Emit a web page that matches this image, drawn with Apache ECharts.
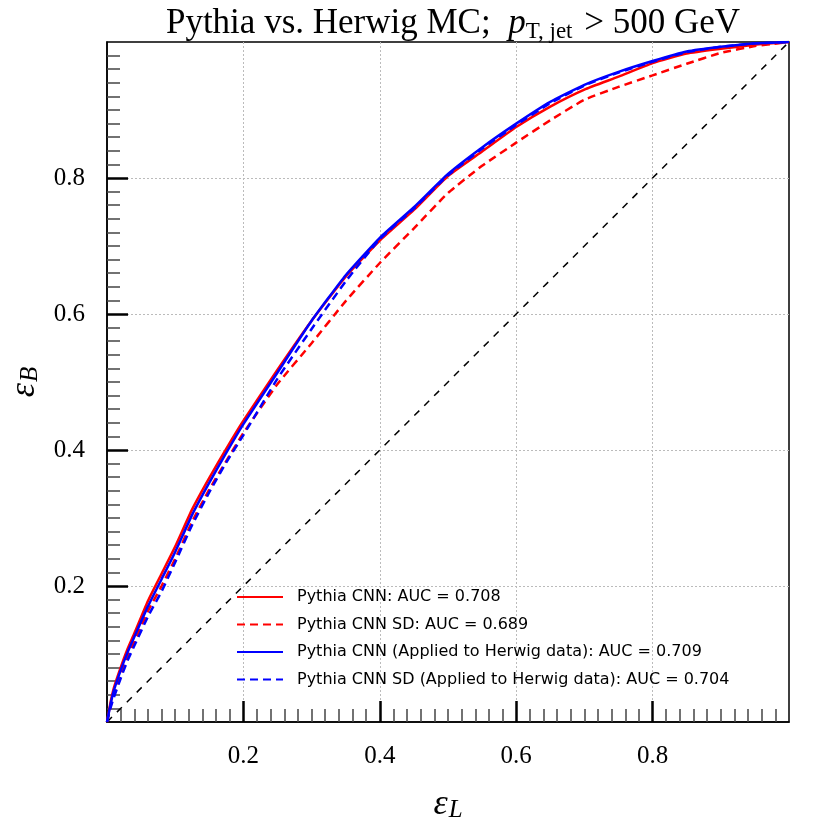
<!DOCTYPE html>
<html>
<head>
<meta charset="utf-8">
<script src="https://cdn.jsdelivr.net/npm/echarts@6/dist/echarts.min.js"></script>
<style>
  html, body { margin: 0; padding: 0; background: #fff; }
  #chart { width: 830px; height: 830px; }
</style>
</head>
<body>
<div id="chart"></div>
<script>
// --- data ---
const epsL = [0, 0.005, 0.01, 0.02, 0.03, 0.04, 0.06, 0.08, 0.1, 0.125, 0.15, 0.175, 0.2, 0.25, 0.3, 0.35,
              0.4, 0.45, 0.5, 0.55, 0.6, 0.65, 0.7, 0.75, 0.8, 0.85, 0.9, 0.95, 0.975, 1.0];

const pythiaCNN = [0, 0.028, 0.05, 0.08, 0.107, 0.13, 0.178, 0.218, 0.258, 0.313, 0.359, 0.402, 0.443, 0.518, 0.59, 0.655,
                   0.708, 0.753, 0.803, 0.839, 0.875, 0.905, 0.93, 0.949, 0.969, 0.983, 0.99, 0.996, 0.998, 1];
const pythiaSD = [0, 0.022, 0.04, 0.07, 0.096, 0.118, 0.163, 0.2, 0.24, 0.295, 0.342, 0.384, 0.425, 0.497, 0.557, 0.619,
                  0.675, 0.726, 0.778, 0.818, 0.852, 0.885, 0.915, 0.934, 0.951, 0.968, 0.984, 0.994, 0.997, 1];
const herwigCNN = [0, 0.025, 0.046, 0.076, 0.102, 0.125, 0.17, 0.21, 0.25, 0.305, 0.352, 0.396, 0.438, 0.514, 0.59, 0.657,
                   0.712, 0.757, 0.806, 0.845, 0.88, 0.912, 0.937, 0.956, 0.972, 0.986, 0.993, 0.998, 0.999, 1];
const herwigSD = [0, 0.02, 0.036, 0.064, 0.09, 0.112, 0.155, 0.192, 0.235, 0.29, 0.338, 0.382, 0.422, 0.505, 0.578, 0.648,
                  0.71, 0.755, 0.804, 0.843, 0.878, 0.91, 0.936, 0.955, 0.971, 0.985, 0.993, 0.998, 0.999, 1];

const diagonal = [0, 1];
const majorTicks = [0.2, 0.4, 0.6, 0.8];

const seriesNames = [
  'Pythia CNN: AUC = 0.708',
  'Pythia CNN SD: AUC = 0.689',
  'Pythia CNN (Applied to Herwig data): AUC = 0.709',
  'Pythia CNN SD (Applied to Herwig data): AUC = 0.704'
];

const SERIF = '"Liberation Serif", "DejaVu Serif", serif';

function pairs(xs, ys) {
  return xs.map((x, i) => [x, ys[i]]);
}

function curve(name, ys, color, dashed) {
  return {
    name: name,
    type: 'line',
    data: pairs(epsL, ys),
    showSymbol: false,
    symbol: 'none',
    smooth: 0.15,
    lineStyle: { color: color, width: 2.5, type: dashed ? [8, 5] : 'solid' },
    itemStyle: { color: color },
    z: 3
  };
}

// italic epsilon with italic subscript, used for both axis names
const nameStyle = {
  rich: {
    e: { fontFamily: SERIF, fontSize: 36, fontStyle: 'italic', color: '#000' },
    s: { fontFamily: SERIF, fontSize: 25, fontStyle: 'italic', color: '#000', padding: [12, 0, 0, 1] }
  }
};

const axisCommon = {
  type: 'value',
  min: 0,
  max: 1,
  interval: 0.2,
  nameLocation: 'middle',
  axisLine: { show: true, lineStyle: { color: '#000', width: 1.5 } },
  axisTick: { show: true, inside: true, length: 21, customValues: majorTicks, lineStyle: { color: '#000', width: 2.5 } },
  minorTick: { show: true, splitNumber: 10, length: 13, lineStyle: { color: '#444', width: 1.5 } },
  splitLine: { show: true, lineStyle: { color: '#bbb', width: 1, type: [2, 2] } },
  axisLabel: { customValues: majorTicks, formatter: v => v.toFixed(1), color: '#000', fontFamily: SERIF, fontSize: 25, margin: 22 },
  nameTextStyle: nameStyle
};

const chart = echarts.init(document.getElementById('chart'));

chart.setOption({
  animation: false,
  backgroundColor: '#fff',
  title: {
    text: 'Pythia vs. Herwig MC;  {i|p}{sub|T, jet}{n| > 500 GeV}',
    left: 448,
    textAlign: 'center',
    top: -1,
    textStyle: {
      fontFamily: SERIF, fontSize: 35, fontWeight: 'normal', color: '#000',
      rich: {
        i: { fontFamily: SERIF, fontSize: 35, fontStyle: 'italic', color: '#000' },
        sub: { fontFamily: SERIF, fontSize: 23, color: '#000', padding: [16, 3, 0, 0] },
        n: { fontFamily: SERIF, fontSize: 35, color: '#000' }
      }
    }
  },
  grid: {
    left: 107, right: 41, top: 42, bottom: 108,
    outerBoundsMode: 'none',
    containLabel: false,
    show: true, borderColor: '#000', borderWidth: 1.5, backgroundColor: 'transparent'
  },
  legend: {
    left: 231,
    top: 584,
    orient: 'vertical',
    itemWidth: 46,
    itemHeight: 12,
    itemGap: 11.5,
    data: seriesNames,
    itemStyle: { opacity: 0 },
    textStyle: { fontFamily: '"DejaVu Sans", sans-serif', fontSize: 16, lineHeight: 16, color: '#000', padding: [0, 0, 0, 9] }
  },
  xAxis: Object.assign({}, axisCommon, { name: '{e|ε}{s|L}', nameGap: 64 }),
  yAxis: Object.assign({}, axisCommon, { name: '{e|ε}{s|B}', nameGap: 60, nameRotate: 90 }),
  series: [
    {
      name: 'diagonal',
      type: 'line',
      data: pairs(diagonal, diagonal),
      symbol: 'none',
      lineStyle: { color: '#000', width: 1.5, type: [7, 7] },
      silent: true,
      z: 2
    },
    curve(seriesNames[0], pythiaCNN, '#ff0000', false),
    curve(seriesNames[1], pythiaSD, '#ff0000', true),
    curve(seriesNames[2], herwigCNN, '#0000ff', false),
    curve(seriesNames[3], herwigSD, '#0000ff', true)
  ]
});

window.addEventListener('resize', () => chart.resize());
</script>
</body>
</html>
